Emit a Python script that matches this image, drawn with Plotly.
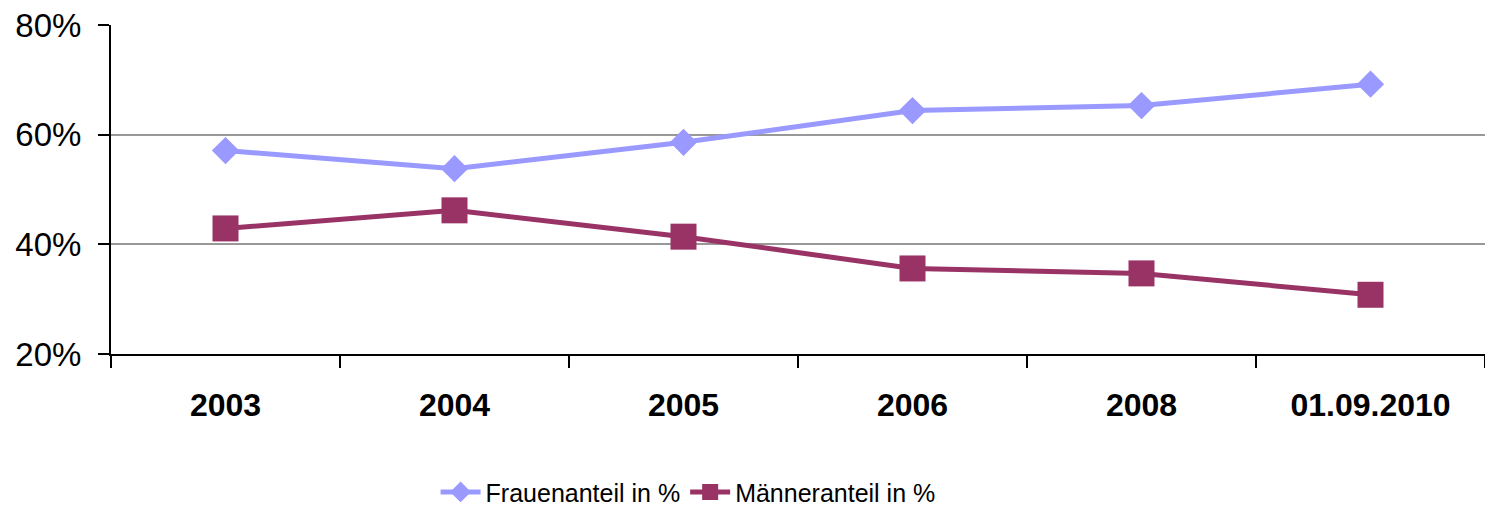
import plotly.graph_objects as go

categories = ["2003", "2004", "2005", "2006", "2008", "01.09.2010"]
frauen = [57.1, 53.8, 58.6, 64.4, 65.3, 69.2]
maenner = [42.9, 46.2, 41.4, 35.6, 34.7, 30.8]
y_ticks = [20, 40, 60, 80]
y_tick_labels = ["20%", "40%", "60%", "80%"]

fig = go.Figure()
fig.add_trace(go.Scatter(
    x=categories, y=frauen, name="Frauenanteil in %", mode="lines+markers",
    line=dict(color="#9999FF", width=5),
    marker=dict(symbol="diamond", size=21, color="#9999FF"),
))
fig.add_trace(go.Scatter(
    x=categories, y=maenner, name="Männeranteil in %", mode="lines+markers",
    line=dict(color="#993366", width=5),
    marker=dict(symbol="square", size=26, color="#993366"),
))

fig.update_layout(
    width=1485, height=511,
    margin=dict(l=111, r=0, t=25, b=157, autoexpand=False),
    plot_bgcolor="white", paper_bgcolor="white",
    font=dict(family="Liberation Sans, Arial, sans-serif", color="black"),
    showlegend=True,
    legend=dict(
        orientation="h", x=0.42, xanchor="center", y=-0.35, yanchor="top",
        font=dict(family="Liberation Sans Narrow, Arial Narrow, Liberation Sans", size=25, color="black"),
        itemwidth=40,
    ),
)
fig.update_xaxes(
    type="category", tickson="boundaries", ticks="outside", ticklen=12,
    tickwidth=2, tickcolor="black", showline=True, linecolor="black", linewidth=2,
    showgrid=False, tickfont=dict(size=32, weight="bold", color="black"),
    ticklabelstandoff=22, range=[-0.5, 5.5], automargin=False,
)
fig.update_yaxes(
    range=[20, 80], tickmode="array", tickvals=y_ticks, ticktext=y_tick_labels,
    ticks="outside", ticklen=11,
    tickwidth=2, tickcolor="black", showline=True, linecolor="black", linewidth=2,
    showgrid=True, gridcolor="#989898", gridwidth=2, zeroline=False,
    tickfont=dict(size=33, color="black"), ticklabelstandoff=10, automargin=False,
)

fig.write_html(
    "out.html",
    config={"displayModeBar": False},
    post_script="document.body.style.margin='0';document.body.style.overflow='hidden';",
)
